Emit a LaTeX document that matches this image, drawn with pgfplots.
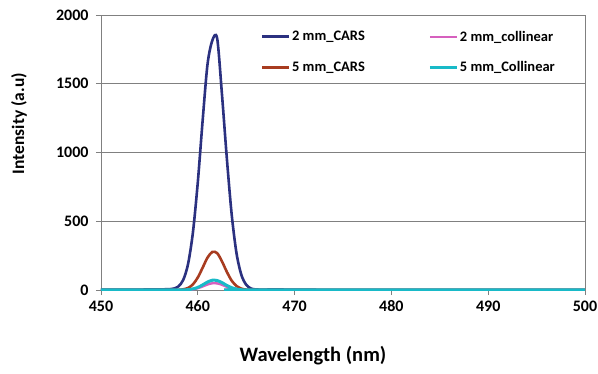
\documentclass[border=0pt]{standalone}
\usepackage{fontspec}
\setmainfont{Carlito}
\usepackage{pgfplots}
\pgfplotsset{compat=1.18}
\definecolor{cblue}{RGB}{43,49,128}
\definecolor{cred}{RGB}{168,60,32}
\definecolor{cmag}{RGB}{214,96,190}
\definecolor{ccyan}{RGB}{24,186,200}
\definecolor{cgrid}{RGB}{128,128,128}
\begin{document}
\begin{tikzpicture}
\begin{axis}[
  anchor=origin, at={(0,0)},
  width=484bp, height=275bp, scale only axis=true,
  xmin=450, xmax=500, ymin=0, ymax=2000,
  xtick={450,460,...,500}, ytick={0,500,...,2000},
  axis line style={cgrid, line width=0.8bp},
  ymajorgrids=true, grid style={cgrid, line width=0.8bp},
  major tick length=5bp,
  tick style={cgrid, line width=0.8bp},
  xtick pos=bottom, ytick pos=left,
  tick align=outside,
  /pgf/number format/assume math mode=true,
  /pgf/number format/1000 sep={},
  ticklabel style={font=\fontsize{16bp}{19bp}\selectfont\bfseries, text=black},
  xticklabel style={yshift=-2bp},
  yticklabel style={xshift=-4bp},
  xlabel={Wavelength (nm)},
  ylabel={Intensity (a.u)},
  xlabel style={font=\fontsize{20.5bp}{24bp}\selectfont\bfseries, at={(axis description cs:0.438,0)}, anchor=center, yshift=-66bp},
  ylabel style={font=\fontsize{17.5bp}{21bp}\selectfont\bfseries, at={(axis description cs:-0.1694,0.605)}, anchor=center},
  legend columns=2,
  legend cell align=left,
  legend style={draw=none, fill=none, at={(axis cs:466.2,1911)}, anchor=north west,
    font=\fontsize{14.5bp}{17bp}\selectfont\bfseries,
    nodes={inner sep=1.5bp},
    /tikz/every even column/.append style={column sep=62bp},
    row sep=16bp},
  legend image code/.code={\draw[#1] (0bp,0bp) -- (27bp,0bp);},
]
\addplot[cblue, line width=2.6bp, smooth, tension=0.5] coordinates {
(450,2) (452,3) (454,3) (455,4) (456,5) (456.5,5) (457,6) (457.5,10) (458,26) (458.5,74)
(459,191) (459.5,421) (460,783) (460.5,1232) (461,1639) (461.5,1815) (462,1830)
(462.5,1420) (463,958) (463.5,550) (464,267) (464.5,110) (465,38) (465.5,11) (466,4)
(467,3) (468,5) (469,3) (470,2) (475,1) (480,1) (490,1) (500,1)};
\addlegendentry{2 mm\_CARS}
\addplot[cmag, line width=2.4bp, smooth, tension=0.5] coordinates {
(450,0) (458.5,0) (459,2) (459.5,5) (460,13) (460.5,26) (461,40) (461.5,49) (462,48)
(462.5,38) (463,23) (463.5,12) (464,5) (464.5,2) (465,0) (500,0)};
\addlegendentry{2 mm\_collinear}
\addplot[cred, line width=2.6bp, smooth, tension=0.5] coordinates {
(450,0) (457,0) (458,1) (458.5,5) (459,15) (459.5,41) (460,91) (460.5,162) (461,235)
(461.5,277) (462,268) (462.5,208) (463,132) (463.5,68) (464,29) (464.5,10) (465,3)
(466,1) (470,0) (500,0)};
\addlegendentry{5 mm\_CARS}
\addplot[ccyan, line width=3bp, smooth, tension=0.5] coordinates {
(450,1) (458.5,1) (459,3) (459.5,8) (460,19) (460.5,37) (461,58) (461.5,71) (462,69)
(462.5,54) (463,33) (463.5,17) (464,7) (464.5,2) (465,1) (500,1)};
\addlegendentry{5 mm\_Collinear}
\end{axis}
\pgfresetboundingbox
\path (-101bp,-84bp) rectangle (497bp,290bp);
\end{tikzpicture}
\end{document}
